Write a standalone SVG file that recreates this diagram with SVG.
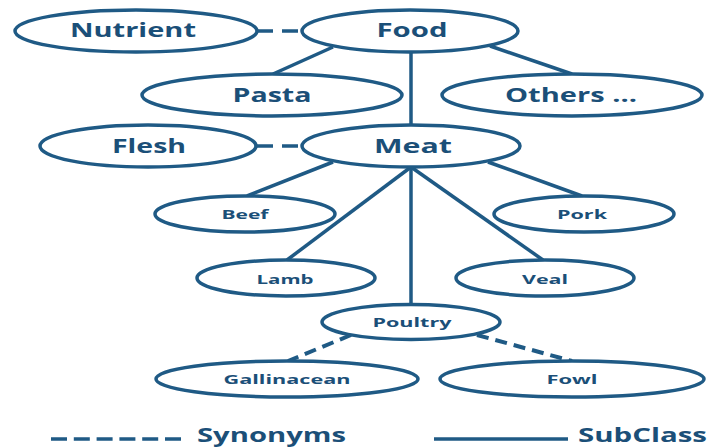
<svg xmlns="http://www.w3.org/2000/svg" width="708" height="448" viewBox="0 0 708 448">
<style>
.n ellipse{fill:#fff;stroke:#1f5a85;stroke-width:3.5}
.n text{font-family:"Open Sans","DejaVu Sans",sans-serif;font-weight:bold;fill:#1b4f78;text-anchor:middle}
.big{font-size:19px}
.sm{font-size:13px}
#connectors line{stroke:#1f5a85;stroke-width:3.5;fill:none}
#connectors .syn{stroke-dasharray:16 9}
#connectors .syn2{stroke-dasharray:12 7;stroke-width:4}
#legend line{stroke:#1f5a85;stroke-width:3.5}
#legend text{font-family:"Open Sans","DejaVu Sans",sans-serif;font-weight:bold;fill:#1b4f78;font-size:20px}
</style>
<rect width="708" height="448" fill="#fff"/>
<g id="connectors">
<line class="syn" x1="257" y1="31" x2="302" y2="31"/>
<line x1="333" y1="47" x2="273" y2="74"/>
<line x1="490" y1="46" x2="572" y2="74"/>
<line x1="411" y1="52" x2="411" y2="125"/>
<line class="syn" x1="257" y1="146" x2="302" y2="146"/>
<line x1="333" y1="162" x2="247" y2="196"/>
<line x1="488" y1="162" x2="582" y2="196"/>
<line x1="411" y1="167" x2="287" y2="260"/>
<line x1="411" y1="167" x2="543" y2="260"/>
<line x1="411" y1="167" x2="411" y2="305"/>
<line class="syn2" x1="351" y1="335" x2="288" y2="361"/>
<line class="syn2" x1="477" y1="335" x2="572" y2="361"/>
</g>
<g id="nutrient" class="n"><ellipse cx="136" cy="31" rx="121" ry="21"/><text class="big" x="133" y="37" textLength="126" lengthAdjust="spacingAndGlyphs">Nutrient</text></g>
<g id="food" class="n"><ellipse cx="410" cy="31" rx="108" ry="21"/><text class="big" x="412" y="37" textLength="71" lengthAdjust="spacingAndGlyphs">Food</text></g>
<g id="pasta" class="n"><ellipse cx="272" cy="95" rx="130" ry="21"/><text class="big" x="272" y="102" textLength="79" lengthAdjust="spacingAndGlyphs">Pasta</text></g>
<g id="others" class="n"><ellipse cx="572" cy="95" rx="130" ry="21"/><text class="big" x="571" y="102" textLength="132" lengthAdjust="spacingAndGlyphs">Others ...</text></g>
<g id="flesh" class="n"><ellipse cx="148" cy="146" rx="108" ry="21"/><text class="big" x="149" y="153" textLength="74" lengthAdjust="spacingAndGlyphs">Flesh</text></g>
<g id="meat" class="n"><ellipse cx="411" cy="146" rx="109" ry="21"/><text class="big" x="413" y="153" textLength="78" lengthAdjust="spacingAndGlyphs">Meat</text></g>
<g id="beef" class="n"><ellipse cx="245" cy="214" rx="90" ry="18"/><text class="sm" x="245" y="219" textLength="47" lengthAdjust="spacingAndGlyphs">Beef</text></g>
<g id="pork" class="n"><ellipse cx="584" cy="214" rx="90" ry="18"/><text class="sm" x="582" y="219" textLength="50" lengthAdjust="spacingAndGlyphs">Pork</text></g>
<g id="lamb" class="n"><ellipse cx="286" cy="278" rx="89" ry="18"/><text class="sm" x="285" y="284" textLength="57" lengthAdjust="spacingAndGlyphs">Lamb</text></g>
<g id="veal" class="n"><ellipse cx="545" cy="278" rx="89" ry="18"/><text class="sm" x="545" y="284" textLength="46" lengthAdjust="spacingAndGlyphs">Veal</text></g>
<g id="poultry" class="n"><ellipse cx="411" cy="322" rx="89" ry="17.5"/><text class="sm" x="412" y="327" textLength="79" lengthAdjust="spacingAndGlyphs">Poultry</text></g>
<g id="gallinacean" class="n"><ellipse cx="287" cy="379" rx="131" ry="18"/><text class="sm" x="287" y="384" textLength="127" lengthAdjust="spacingAndGlyphs">Gallinacean</text></g>
<g id="fowl" class="n"><ellipse cx="572" cy="379" rx="132" ry="18"/><text class="sm" x="572" y="384" textLength="51" lengthAdjust="spacingAndGlyphs">Fowl</text></g>
<g id="legend">
<line x1="51" y1="439" x2="181" y2="439" stroke-dasharray="16 6.8"/>
<text x="197" y="442" textLength="149" lengthAdjust="spacingAndGlyphs">Synonyms</text>
<line x1="434" y1="439" x2="568" y2="439"/>
<text x="578" y="442" textLength="129" lengthAdjust="spacingAndGlyphs">SubClass</text>
</g>
</svg>
